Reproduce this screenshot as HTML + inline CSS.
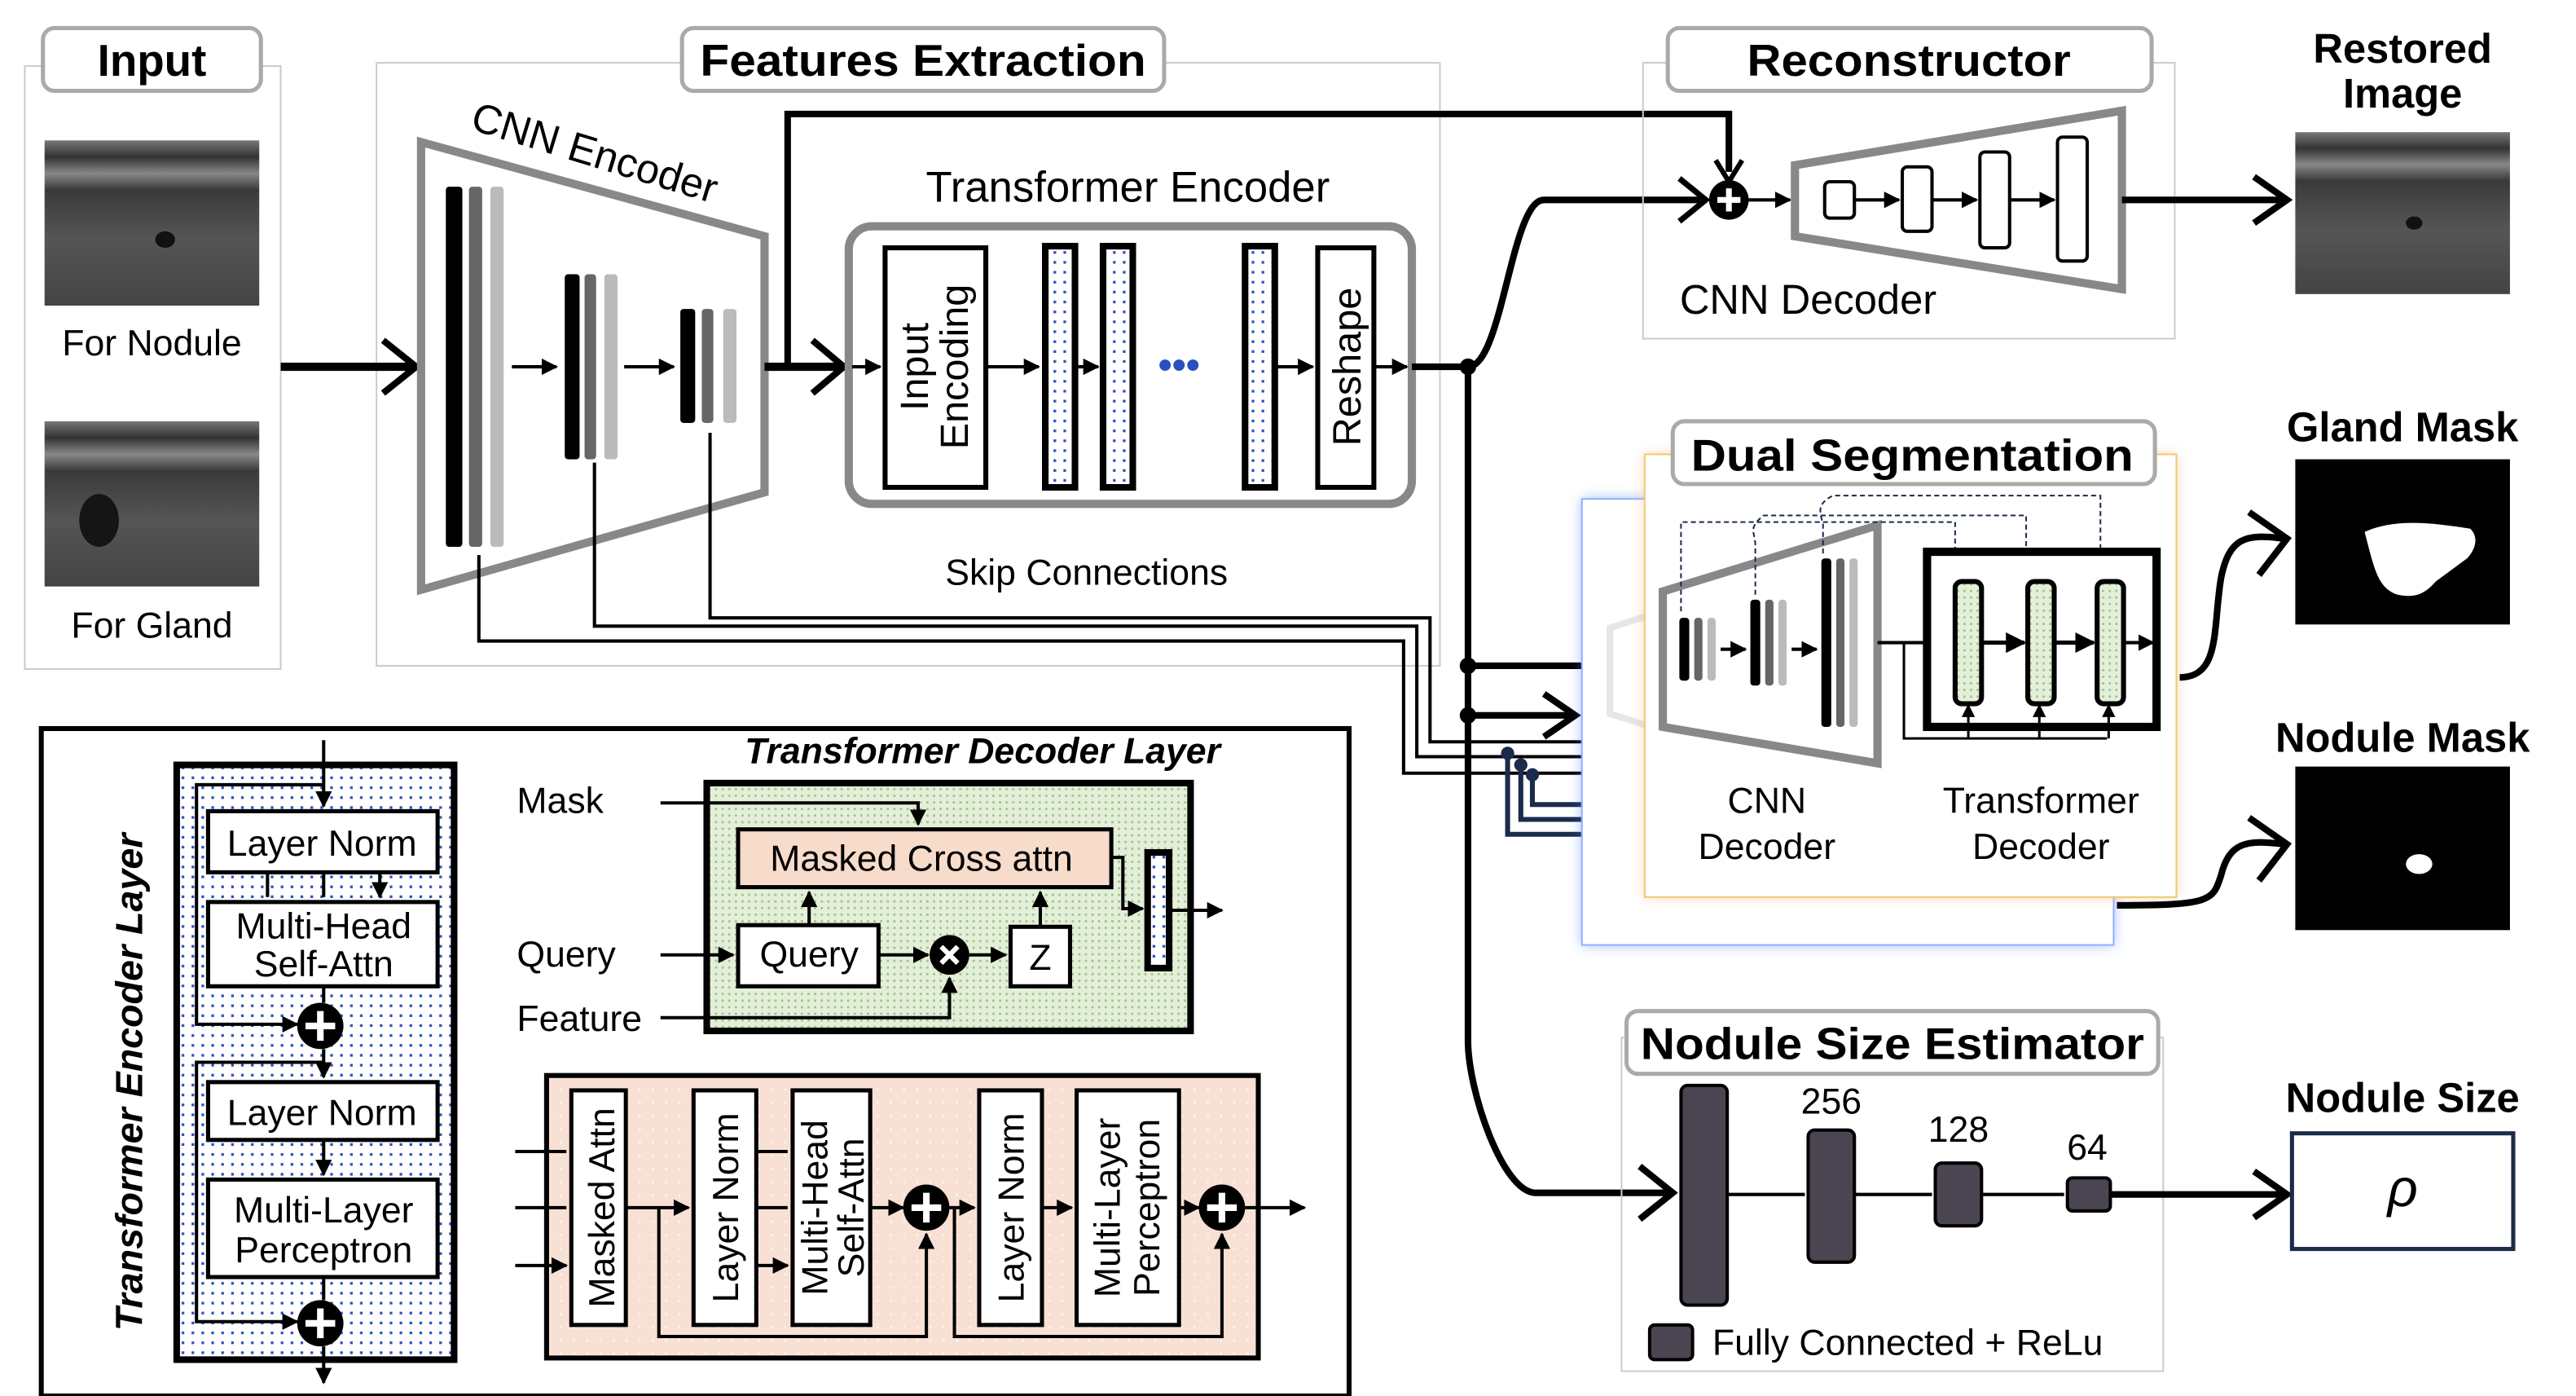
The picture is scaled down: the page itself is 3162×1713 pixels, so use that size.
<!DOCTYPE html>
<html><head><meta charset="utf-8"><style>
html,body{margin:0;padding:0;background:#fff;}
svg{display:block;}
text{font-family:"Liberation Sans",sans-serif;}
</style></head><body>
<svg width="3162" height="1713" viewBox="0 0 1560 845" preserveAspectRatio="none" xmlns="http://www.w3.org/2000/svg">
<defs>
<pattern id="bd" width="6" height="6" patternUnits="userSpaceOnUse"><rect width="6" height="6" fill="#fff"/><rect x="2" y="2" width="1.6" height="1.6" fill="#2a4fc0"/></pattern>
<pattern id="gd" width="4" height="4" patternUnits="userSpaceOnUse"><rect width="4" height="4" fill="#e4efd9"/><rect x="1" y="1" width="1.3" height="1.3" fill="#9cc185"/></pattern>
<pattern id="pd" width="8" height="8" patternUnits="userSpaceOnUse"><rect width="8" height="8" fill="#f8e1d4"/><rect x="3" y="3" width="1" height="1" fill="#fff"/></pattern>
<marker id="a" viewBox="0 0 10 10" refX="9" refY="5" markerWidth="5" markerHeight="5" orient="auto"><path d="M0,0L10,5L0,10z" fill="#000"/></marker>
<marker id="an" viewBox="0 0 10 10" refX="9" refY="5" markerWidth="5" markerHeight="6" orient="auto"><path d="M0,0L10,5L0,10z" fill="#1b2b4a"/></marker>
<linearGradient id="img" x1="0" y1="0" x2="0" y2="1"><stop offset="0" stop-color="#777"/><stop offset=".1" stop-color="#333"/><stop offset=".2" stop-color="#888"/><stop offset=".3" stop-color="#3a3a3a"/><stop offset=".6" stop-color="#555"/><stop offset="1" stop-color="#444"/></linearGradient>
<filter id="gl" x="-10%" y="-10%" width="120%" height="120%"><feGaussianBlur stdDeviation="4"/></filter>
</defs>

<!-- Input -->
<rect x="15" y="40" width="155" height="365" fill="none" stroke="#ccc" stroke-width="1"/>
<rect x="26" y="17" width="132" height="38" rx="7" fill="#fff" stroke="#aaa" stroke-width="2.5"/>
<text x="92" y="46" font-size="27" font-weight="bold" text-anchor="middle">Input</text>
<rect x="27" y="85" width="130" height="100" fill="url(#img)"/>
<ellipse cx="100" cy="145" rx="6" ry="5" fill="#111"/>
<text x="92" y="215" font-size="22" text-anchor="middle">For Nodule</text>
<rect x="27" y="255" width="130" height="100" fill="url(#img)"/>
<ellipse cx="60" cy="315" rx="12" ry="16" fill="#151515"/>
<text x="92" y="386" font-size="22" text-anchor="middle">For Gland</text>

<!-- Features extraction -->
<rect x="228" y="38" width="644" height="365" fill="none" stroke="#ccc" stroke-width="1"/>
<rect x="413" y="17" width="292" height="38" rx="7" fill="#fff" stroke="#aaa" stroke-width="2.5"/>
<text x="559" y="46" font-size="27" font-weight="bold" text-anchor="middle" textLength="270" lengthAdjust="spacingAndGlyphs">Features Extraction</text>
<line x1="170" y1="222" x2="250" y2="222" stroke="#000" stroke-width="5"/>
<path d="M232,206L252,222L232,238" fill="none" stroke="#000" stroke-width="4"/>
<path d="M255,86L463,143L463,298L255,357Z" fill="none" stroke="#888" stroke-width="5"/>
<text x="0" y="0" font-size="25" transform="translate(284,78) rotate(17)">CNN Encoder</text>
<rect x="270" y="113" width="10" height="218" rx="2" fill="#000"/>
<rect x="284" y="113" width="8" height="218" rx="2" fill="#666"/>
<rect x="297" y="113" width="8" height="218" rx="2" fill="#bbb"/>
<line x1="310" y1="222" x2="337" y2="222" stroke="#000" stroke-width="2" marker-end="url(#a)"/>
<rect x="342" y="166" width="9" height="112" rx="2" fill="#000"/>
<rect x="354" y="166" width="7" height="112" rx="2" fill="#666"/>
<rect x="366" y="166" width="8" height="112" rx="2" fill="#bbb"/>
<line x1="378" y1="222" x2="408" y2="222" stroke="#000" stroke-width="2" marker-end="url(#a)"/>
<rect x="412" y="187" width="9" height="69" rx="2" fill="#000"/>
<rect x="425" y="187" width="7" height="69" rx="2" fill="#666"/>
<rect x="438" y="187" width="8" height="69" rx="2" fill="#bbb"/>
<line x1="463" y1="222" x2="510" y2="222" stroke="#000" stroke-width="5"/>
<path d="M492,206L511,222L492,238" fill="none" stroke="#000" stroke-width="4"/>
<path d="M477,222V69H1047V104" fill="none" stroke="#000" stroke-width="4"/>
<path d="M1039,97L1047,110L1055,97" fill="none" stroke="#000" stroke-width="3"/>
<text x="683" y="122" font-size="26" text-anchor="middle">Transformer Encoder</text>
<rect x="514" y="137" width="341" height="168" rx="14" fill="none" stroke="#888" stroke-width="5"/>
<line x1="516" y1="222" x2="533" y2="222" stroke="#000" stroke-width="2" marker-end="url(#a)"/>
<rect x="536" y="150" width="61" height="145" fill="#fff" stroke="#000" stroke-width="3"/>
<text transform="translate(562,222) rotate(-90)" font-size="24" text-anchor="middle">Input</text>
<text transform="translate(586,222) rotate(-90)" font-size="24" text-anchor="middle">Encoding</text>
<line x1="597" y1="222" x2="629" y2="222" stroke="#000" stroke-width="2" marker-end="url(#a)"/>
<rect x="633" y="149" width="18" height="146" fill="url(#bd)" stroke="#000" stroke-width="4"/>
<line x1="652" y1="222" x2="665" y2="222" stroke="#000" stroke-width="2" marker-end="url(#a)"/>
<rect x="668" y="149" width="18" height="146" fill="url(#bd)" stroke="#000" stroke-width="4"/>
<text x="714" y="229" font-size="24" fill="#2a4fc0" text-anchor="middle" font-weight="bold">•••</text>
<rect x="754" y="149" width="18" height="146" fill="url(#bd)" stroke="#000" stroke-width="4"/>
<line x1="773" y1="222" x2="795" y2="222" stroke="#000" stroke-width="2" marker-end="url(#a)"/>
<rect x="798" y="150" width="34" height="145" fill="#fff" stroke="#000" stroke-width="3"/>
<text transform="translate(824,222) rotate(-90)" font-size="24" text-anchor="middle">Reshape</text>
<line x1="833" y1="222" x2="852" y2="222" stroke="#000" stroke-width="2" marker-end="url(#a)"/>
<text x="658" y="354" font-size="22" text-anchor="middle">Skip Connections</text>

<!-- main output routing -->
<line x1="855" y1="222" x2="889" y2="222" stroke="#000" stroke-width="4"/>
<path d="M889,222C910,222 915,121 935,121H1030" fill="none" stroke="#000" stroke-width="4"/>
<path d="M1017,108L1033,121L1017,134" fill="none" stroke="#000" stroke-width="3.5"/>
<path d="M889,222V630C889,660 910,722 930,722H1013" fill="none" stroke="#000" stroke-width="4"/>
<path d="M993,706L1013,722L993,738" fill="none" stroke="#000" stroke-width="4"/>
<circle cx="889" cy="222" r="5"/>
<circle cx="889" cy="403" r="5"/>
<circle cx="889" cy="433" r="5"/>
<line x1="889" y1="403" x2="993" y2="403" stroke="#000" stroke-width="4"/>
<path d="M975,390L994,403L975,416" fill="none" stroke="#000" stroke-width="4"/>
<line x1="889" y1="433" x2="953" y2="433" stroke="#000" stroke-width="4"/>
<path d="M935,420L954,433L935,446" fill="none" stroke="#000" stroke-width="4"/>

<!-- skip connections -->
<path d="M290,336V388H850V468H1108V444" fill="none" stroke="#000" stroke-width="2" marker-end="url(#a)"/>
<path d="M360,280V379H858V458H1062V392" fill="none" stroke="#000" stroke-width="2" marker-end="url(#a)"/>
<path d="M430,262V374H866V449H1016V400" fill="none" stroke="#000" stroke-width="2" marker-end="url(#a)"/>
<path d="M913,456V505H958M921,463V496H958M928,469V487H958" fill="none" stroke="#1b2b4a" stroke-width="3"/>
<circle cx="913" cy="456" r="4" fill="#1b2b4a"/><circle cx="921" cy="463" r="4" fill="#1b2b4a"/><circle cx="928" cy="469" r="4" fill="#1b2b4a"/>

<!-- Reconstructor -->
<rect x="995" y="38" width="322" height="167" fill="none" stroke="#ccc" stroke-width="1"/>
<rect x="1010" y="17" width="293" height="38" rx="7" fill="#fff" stroke="#aaa" stroke-width="2.5"/>
<text x="1156" y="46" font-size="27" font-weight="bold" text-anchor="middle" textLength="196" lengthAdjust="spacingAndGlyphs">Reconstructor</text>
<circle cx="1047" cy="121" r="12" fill="#000"/>
<path d="M1040,121H1054M1047,114V128" stroke="#fff" stroke-width="3.5"/>
<line x1="1059" y1="121" x2="1084" y2="121" stroke="#000" stroke-width="2" marker-end="url(#a)"/>
<path d="M1087,100L1285,67L1285,175L1087,143Z" fill="none" stroke="#888" stroke-width="5"/>
<rect x="1105" y="110" width="18" height="22" rx="3" fill="#fff" stroke="#000" stroke-width="2"/>
<line x1="1123" y1="121" x2="1150" y2="121" stroke="#000" stroke-width="2" marker-end="url(#a)"/>
<rect x="1152" y="101" width="18" height="39" rx="3" fill="#fff" stroke="#000" stroke-width="2"/>
<line x1="1170" y1="121" x2="1197" y2="121" stroke="#000" stroke-width="2" marker-end="url(#a)"/>
<rect x="1199" y="92" width="18" height="58" rx="3" fill="#fff" stroke="#000" stroke-width="2"/>
<line x1="1217" y1="121" x2="1244" y2="121" stroke="#000" stroke-width="2" marker-end="url(#a)"/>
<rect x="1246" y="83" width="18" height="75" rx="3" fill="#fff" stroke="#000" stroke-width="2"/>
<text x="1095" y="190" font-size="25" text-anchor="middle">CNN Decoder</text>
<line x1="1285" y1="121" x2="1383" y2="121" stroke="#000" stroke-width="4"/>
<path d="M1365,107L1385,121L1365,135" fill="none" stroke="#000" stroke-width="4"/>
<text x="1455" y="38" font-size="25" font-weight="bold" text-anchor="middle">Restored</text>
<text x="1455" y="65" font-size="25" font-weight="bold" text-anchor="middle">Image</text>
<rect x="1390" y="80" width="130" height="98" fill="url(#img)"/>
<ellipse cx="1462" cy="135" rx="5" ry="4" fill="#111"/>

<!-- Dual segmentation -->
<rect x="958" y="302" width="322" height="270" fill="#4a78ff" opacity=".5" filter="url(#gl)"/>
<rect x="958" y="302" width="322" height="270" fill="#fff" stroke="#8fb0ff" stroke-width="1"/>
<path d="M975,380L1000,372L1000,440L975,432Z" fill="none" stroke="#e6e6e6" stroke-width="4"/>
<rect x="996" y="275" width="322" height="268" fill="#f7b98b" opacity=".6" filter="url(#gl)"/>
<rect x="996" y="275" width="322" height="268" fill="#fff" stroke="#f0c96a" stroke-width="1"/>
<rect x="1013" y="255" width="292" height="38" rx="7" fill="#fff" stroke="#aaa" stroke-width="2.5"/>
<text x="1158" y="285" font-size="27" font-weight="bold" text-anchor="middle" textLength="268" lengthAdjust="spacingAndGlyphs">Dual Segmentation</text>
<path d="M1007,358L1137,318L1137,462L1007,440Z" fill="none" stroke="#888" stroke-width="5"/>
<rect x="1017" y="374" width="6" height="38" rx="2"/><rect x="1026" y="374" width="5" height="38" rx="2" fill="#666"/><rect x="1034" y="374" width="5" height="38" rx="2" fill="#bbb"/>
<line x1="1042" y1="393" x2="1057" y2="393" stroke="#000" stroke-width="2" marker-end="url(#a)"/>
<rect x="1060" y="363" width="6" height="52" rx="2"/><rect x="1069" y="363" width="5" height="52" rx="2" fill="#666"/><rect x="1077" y="363" width="5" height="52" rx="2" fill="#bbb"/>
<line x1="1085" y1="393" x2="1100" y2="393" stroke="#000" stroke-width="2" marker-end="url(#a)"/>
<rect x="1103" y="338" width="6" height="102" rx="2"/><rect x="1112" y="338" width="5" height="102" rx="2" fill="#666"/><rect x="1120" y="338" width="5" height="102" rx="2" fill="#bbb"/>
<line x1="1137" y1="389" x2="1180" y2="389" stroke="#000" stroke-width="2" marker-end="url(#a)"/>
<path d="M1018,370V316H1184V342M1063,360V330C1063,322 1058,320 1068,312H1227V342M1104,335V317C1102,310 1100,305 1110,300H1272V342" fill="none" stroke="#1b2b4a" stroke-width="1" stroke-dasharray="3,2" marker-end="url(#an)"/>
<rect x="1167" y="334" width="139" height="106" fill="#fff" stroke="#000" stroke-width="5"/>
<rect x="1184" y="352" width="16" height="74" rx="4" fill="url(#gd)" stroke="#000" stroke-width="3"/>
<rect x="1228" y="352" width="16" height="74" rx="4" fill="url(#gd)" stroke="#000" stroke-width="3"/>
<rect x="1270" y="352" width="16" height="74" rx="4" fill="url(#gd)" stroke="#000" stroke-width="3"/>
<line x1="1200" y1="389" x2="1226" y2="389" stroke="#000" stroke-width="2.5" marker-end="url(#a)"/>
<line x1="1244" y1="389" x2="1268" y2="389" stroke="#000" stroke-width="2.5" marker-end="url(#a)"/>
<line x1="1286" y1="389" x2="1304" y2="389" stroke="#000" stroke-width="2" marker-end="url(#a)"/>
<path d="M1153,389V447H1276M1192,447V428M1235,447V428M1277,447V428" fill="none" stroke="#000" stroke-width="1.5"/>
<path d="M1188,434L1192,426L1196,434ZM1231,434L1235,426L1239,434ZM1273,434L1277,426L1281,434Z"/>
<text x="1070" y="492" font-size="22" text-anchor="middle">CNN</text>
<text x="1070" y="520" font-size="22" text-anchor="middle">Decoder</text>
<text x="1236" y="492" font-size="22" text-anchor="middle">Transformer</text>
<text x="1236" y="520" font-size="22" text-anchor="middle">Decoder</text>
<path d="M1320,410C1345,410 1340,380 1345,350C1350,325 1360,323 1383,326" fill="none" stroke="#000" stroke-width="4"/>
<path d="M1362,310L1385,326L1368,348" fill="none" stroke="#000" stroke-width="4"/>
<path d="M1282,548C1340,548 1340,545 1345,530C1350,510 1360,508 1383,511" fill="none" stroke="#000" stroke-width="4"/>
<path d="M1362,495L1385,511L1368,533" fill="none" stroke="#000" stroke-width="4"/>
<text x="1455" y="267" font-size="25" font-weight="bold" text-anchor="middle">Gland Mask</text>
<rect x="1390" y="278" width="130" height="100" fill="#000"/>
<path d="M1432,322C1450,314 1470,316 1496,320C1502,326 1498,334 1494,338L1475,352C1468,360 1462,362 1452,360C1440,356 1438,345 1432,322Z" fill="#fff"/>
<text x="1455" y="455" font-size="25" font-weight="bold" text-anchor="middle">Nodule Mask</text>
<rect x="1390" y="464" width="130" height="99" fill="#000"/>
<ellipse cx="1465" cy="523" rx="8" ry="6" fill="#fff"/>

<!-- Nodule size estimator -->
<rect x="982" y="628" width="328" height="202" fill="none" stroke="#ccc" stroke-width="1"/>
<rect x="985" y="612" width="322" height="38" rx="7" fill="#fff" stroke="#aaa" stroke-width="2.5"/>
<text x="1146" y="641" font-size="27" font-weight="bold" text-anchor="middle" textLength="305" lengthAdjust="spacingAndGlyphs">Nodule Size Estimator</text>
<rect x="1018" y="657" width="28" height="133" rx="4" fill="#4a4550" stroke="#000" stroke-width="2"/>
<line x1="1046" y1="723" x2="1093" y2="723" stroke="#000" stroke-width="2"/>
<rect x="1095" y="684" width="28" height="80" rx="4" fill="#4a4550" stroke="#000" stroke-width="2"/>
<line x1="1123" y1="723" x2="1170" y2="723" stroke="#000" stroke-width="2"/>
<rect x="1172" y="704" width="28" height="38" rx="4" fill="#4a4550" stroke="#000" stroke-width="2"/>
<line x1="1200" y1="723" x2="1250" y2="723" stroke="#000" stroke-width="2"/>
<rect x="1252" y="713" width="26" height="20" rx="3" fill="#4a4550" stroke="#000" stroke-width="2"/>
<text x="1109" y="674" font-size="22" text-anchor="middle">256</text>
<text x="1186" y="691" font-size="22" text-anchor="middle">128</text>
<text x="1264" y="702" font-size="22" text-anchor="middle">64</text>
<rect x="999" y="802" width="26" height="21" rx="3" fill="#4a4550" stroke="#000" stroke-width="2"/>
<text x="1037" y="820" font-size="22">Fully Connected + ReLu</text>
<line x1="1278" y1="723" x2="1383" y2="723" stroke="#000" stroke-width="4"/>
<path d="M1365,709L1385,723L1365,737" fill="none" stroke="#000" stroke-width="4"/>
<text x="1455" y="673" font-size="25" font-weight="bold" text-anchor="middle">Nodule Size</text>
<rect x="1388" y="686" width="134" height="70" fill="#fff" stroke="#1b2b4a" stroke-width="2.5"/>
<text x="1455" y="730" font-size="32" font-style="italic" text-anchor="middle" font-family="Liberation Serif">ρ</text>

<!-- bottom-left box -->
<rect x="25" y="441" width="792" height="404" fill="#fff" stroke="#000" stroke-width="3"/>
<text transform="translate(86,655) rotate(-90)" font-size="23" font-weight="bold" font-style="italic" text-anchor="middle">Transformer Encoder Layer</text>
<rect x="107" y="463" width="168" height="360" fill="url(#bd)" stroke="#000" stroke-width="4"/>
<path d="M196,448V488" stroke="#000" stroke-width="2" marker-end="url(#a)"/>
<path d="M196,475H119V620H180" fill="none" stroke="#000" stroke-width="2" marker-end="url(#a)"/>
<rect x="126" y="491" width="139" height="37" fill="#fff" stroke="#000" stroke-width="2.5"/>
<text x="195" y="518" font-size="22" text-anchor="middle">Layer Norm</text>
<path d="M162,528V543M196,528V543M230,528V543" stroke="#000" stroke-width="2" marker-end="url(#a)"/>
<rect x="126" y="546" width="139" height="51" fill="#fff" stroke="#000" stroke-width="2.5"/>
<text x="196" y="568" font-size="22" text-anchor="middle">Multi-Head</text>
<text x="196" y="591" font-size="22" text-anchor="middle">Self-Attn</text>
<line x1="196" y1="597" x2="196" y2="607" stroke="#000" stroke-width="2"/>
<circle cx="194" cy="621" r="14" fill="#000"/>
<path d="M185,621H203M194,612V630" stroke="#fff" stroke-width="4"/>
<path d="M196,635V652" stroke="#000" stroke-width="2" marker-end="url(#a)"/>
<path d="M196,643H119V800H180" fill="none" stroke="#000" stroke-width="2" marker-end="url(#a)"/>
<rect x="126" y="655" width="139" height="35" fill="#fff" stroke="#000" stroke-width="2.5"/>
<text x="195" y="681" font-size="22" text-anchor="middle">Layer Norm</text>
<path d="M196,690V711" stroke="#000" stroke-width="2" marker-end="url(#a)"/>
<rect x="126" y="714" width="139" height="59" fill="#fff" stroke="#000" stroke-width="2.5"/>
<text x="196" y="740" font-size="22" text-anchor="middle">Multi-Layer</text>
<text x="196" y="764" font-size="22" text-anchor="middle">Perceptron</text>
<line x1="196" y1="773" x2="196" y2="787" stroke="#000" stroke-width="2"/>
<circle cx="194" cy="801" r="14" fill="#000"/>
<path d="M185,801H203M194,792V810" stroke="#fff" stroke-width="4"/>
<path d="M196,815V837" stroke="#000" stroke-width="2" marker-end="url(#a)"/>

<text x="595" y="462" font-size="22" font-weight="bold" font-style="italic" text-anchor="middle">Transformer Decoder Layer</text>
<rect x="428" y="474" width="293" height="150" fill="url(#gd)" stroke="#000" stroke-width="4"/>
<text x="313" y="492" font-size="22">Mask</text>
<text x="313" y="585" font-size="22">Query</text>
<text x="313" y="624" font-size="22">Feature</text>
<path d="M400,486H556V499" fill="none" stroke="#000" stroke-width="2" marker-end="url(#a)"/>
<rect x="447" y="502" width="226" height="35" fill="#f8dccb" stroke="#000" stroke-width="2.5"/>
<text x="558" y="527" font-size="22" text-anchor="middle">Masked Cross attn</text>
<path d="M400,578H444" stroke="#000" stroke-width="2" marker-end="url(#a)"/>
<rect x="447" y="560" width="85" height="37" fill="#fff" stroke="#000" stroke-width="2.5"/>
<text x="490" y="585" font-size="22" text-anchor="middle">Query</text>
<path d="M490,560V540" stroke="#000" stroke-width="2" marker-end="url(#a)"/>
<path d="M532,578H562" stroke="#000" stroke-width="2" marker-end="url(#a)"/>
<circle cx="575" cy="578" r="12" fill="#000"/>
<path d="M570,573L580,583M580,573L570,583" stroke="#fff" stroke-width="3"/>
<path d="M400,616H575V592" fill="none" stroke="#000" stroke-width="2" marker-end="url(#a)"/>
<path d="M587,578H609" stroke="#000" stroke-width="2" marker-end="url(#a)"/>
<rect x="612" y="561" width="36" height="36" fill="#fff" stroke="#000" stroke-width="2.5"/>
<text x="630" y="587" font-size="22" text-anchor="middle">Z</text>
<path d="M630,561V540" stroke="#000" stroke-width="2" marker-end="url(#a)"/>
<path d="M673,519H680V550H692" fill="none" stroke="#000" stroke-width="2" marker-end="url(#a)"/>
<rect x="695" y="516" width="13" height="70" fill="url(#bd)" stroke="#000" stroke-width="4"/>
<path d="M708,551H740" stroke="#000" stroke-width="2" marker-end="url(#a)"/>

<rect x="331" y="651" width="431" height="171" fill="url(#pd)" stroke="#000" stroke-width="3"/>
<path d="M312,697H343M312,731H343M312,766H343" stroke="#000" stroke-width="2" marker-end="url(#a)"/>
<rect x="346" y="660" width="33" height="142" fill="#fff" stroke="#000" stroke-width="2.5"/>
<text transform="translate(372,731) rotate(-90)" font-size="22" text-anchor="middle">Masked Attn</text>
<path d="M379,731H417" stroke="#000" stroke-width="2" marker-end="url(#a)"/>
<path d="M399,731V809H561V747" fill="none" stroke="#000" stroke-width="2" marker-end="url(#a)"/>
<rect x="420" y="660" width="38" height="142" fill="#fff" stroke="#000" stroke-width="2.5"/>
<text transform="translate(447,731) rotate(-90)" font-size="22" text-anchor="middle">Layer Norm</text>
<path d="M458,697H477M458,731H477M458,766H477" stroke="#000" stroke-width="2" marker-end="url(#a)"/>
<rect x="480" y="660" width="47" height="142" fill="#fff" stroke="#000" stroke-width="2.5"/>
<text transform="translate(501,731) rotate(-90)" font-size="22" text-anchor="middle">Multi-Head</text>
<text transform="translate(523,731) rotate(-90)" font-size="22" text-anchor="middle">Self-Attn</text>
<path d="M527,731H547" stroke="#000" stroke-width="2" marker-end="url(#a)"/>
<circle cx="561" cy="731" r="14" fill="#000"/>
<path d="M552,731H570M561,722V740" stroke="#fff" stroke-width="4"/>
<path d="M575,731H590" stroke="#000" stroke-width="2" marker-end="url(#a)"/>
<path d="M578,731V809H740V747" fill="none" stroke="#000" stroke-width="2" marker-end="url(#a)"/>
<rect x="593" y="660" width="38" height="142" fill="#fff" stroke="#000" stroke-width="2.5"/>
<text transform="translate(620,731) rotate(-90)" font-size="22" text-anchor="middle">Layer Norm</text>
<path d="M631,731H649" stroke="#000" stroke-width="2" marker-end="url(#a)"/>
<rect x="652" y="660" width="62" height="142" fill="#fff" stroke="#000" stroke-width="2.5"/>
<text transform="translate(678,731) rotate(-90)" font-size="22" text-anchor="middle">Multi-Layer</text>
<text transform="translate(702,731) rotate(-90)" font-size="22" text-anchor="middle">Perceptron</text>
<path d="M714,731H726" stroke="#000" stroke-width="2" marker-end="url(#a)"/>
<circle cx="740" cy="731" r="14" fill="#000"/>
<path d="M731,731H749M740,722V740" stroke="#fff" stroke-width="4"/>
<path d="M754,731H790" stroke="#000" stroke-width="2" marker-end="url(#a)"/>
</svg>
</body></html>
